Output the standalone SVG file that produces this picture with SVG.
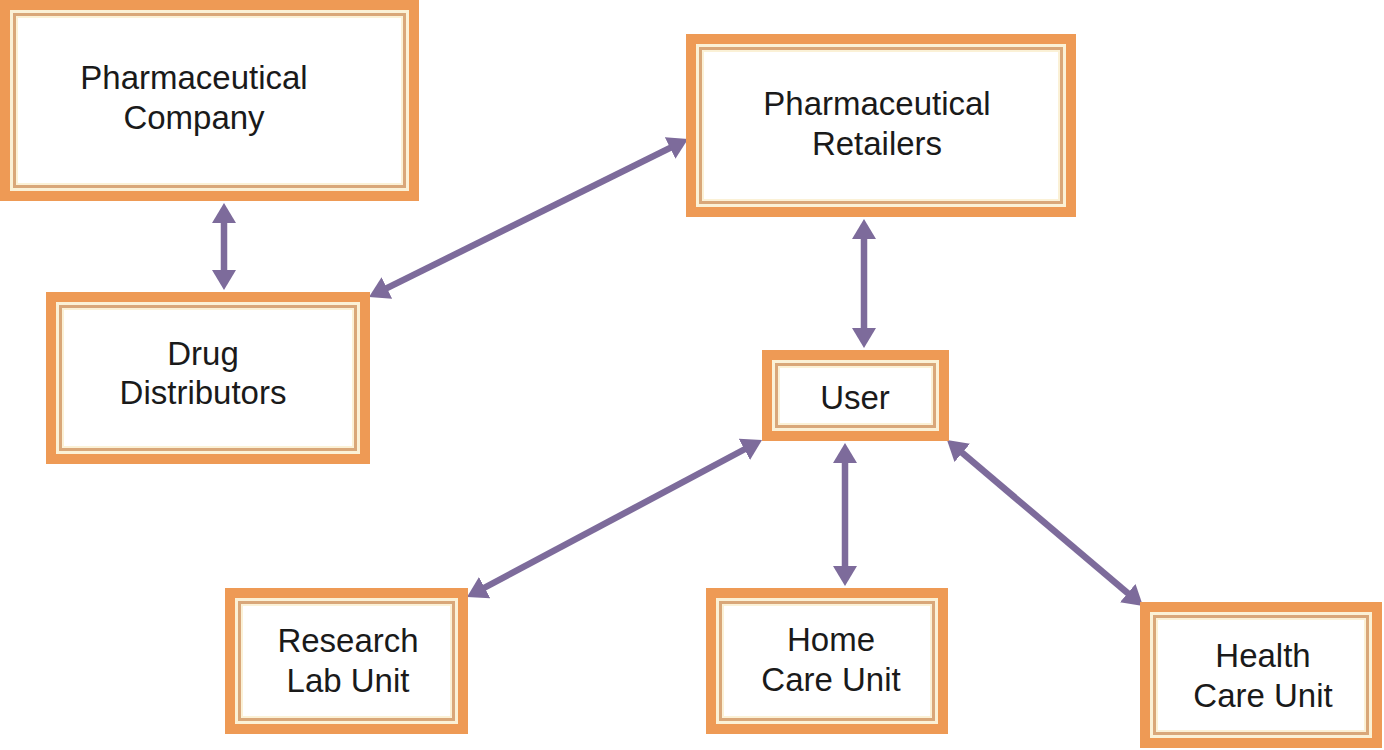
<svg xmlns="http://www.w3.org/2000/svg" width="1384" height="750" viewBox="0 0 1384 750">
<style>
.o{fill:#FBF1D6;stroke:#EE9A55;stroke-width:10}
.t{fill:none;stroke:#D9A779;stroke-width:3}
.w{fill:#FFFFFF}
.lbl{font-family:"Liberation Sans",Arial,sans-serif;font-size:33px;fill:#1a1a1a;text-anchor:middle}
.c{stroke:#7D6B9B;stroke-width:6.5;fill:none;marker-start:url(#ah);marker-end:url(#ah)}
</style>
<defs>
<marker id="ah" markerUnits="userSpaceOnUse" markerWidth="26" markerHeight="26" refX="4" refY="12" orient="auto-start-reverse">
<path d="M0,0 L20,12 L0,24 z" fill="#7D6B9B"/>
</marker>
</defs>
<rect width="1384" height="750" fill="#FFFFFF"/>
<g id="connectors">
<line class="c" x1="224" y1="219" x2="224" y2="274"/>
<line class="c" x1="673.7" y1="146.1" x2="383.3" y2="289.9"/>
<line class="c" x1="864" y1="235" x2="864" y2="332"/>
<line class="c" x1="747.9" y1="447.5" x2="481.1" y2="589.5"/>
<line class="c" x1="845" y1="459" x2="845" y2="570"/>
<line class="c" x1="959.2" y1="450.3" x2="1130.8" y2="595.7"/>
</g>
<g id="pharma-company">
<rect class="o" x="5" y="5" width="409" height="191"/>
<rect class="t" x="14.5" y="14.5" width="390" height="172"/>
<rect class="w" x="18" y="18" width="383" height="165"/>
<text class="lbl" x="194" y="89">Pharmaceutical</text>
<text class="lbl" x="194" y="129">Company</text>
</g>
<g id="pharma-retailers">
<rect class="o" x="691" y="39" width="380" height="173"/>
<rect class="t" x="700.5" y="48.5" width="361" height="154"/>
<rect class="w" x="704" y="52" width="354" height="147"/>
<text class="lbl" x="877" y="115">Pharmaceutical</text>
<text class="lbl" x="877" y="155">Retailers</text>
</g>
<g id="drug-distributors">
<rect class="o" x="51" y="297" width="314" height="162"/>
<rect class="t" x="60.5" y="306.5" width="295" height="143"/>
<rect class="w" x="64" y="310" width="288" height="136"/>
<text class="lbl" x="203" y="365">Drug</text>
<text class="lbl" x="203" y="404">Distributors</text>
</g>
<g id="user">
<rect class="o" x="767" y="355" width="177" height="81"/>
<rect class="t" x="776.5" y="364.5" width="158" height="62"/>
<rect class="w" x="780" y="368" width="151" height="55"/>
<text class="lbl" x="855" y="409">User</text>
</g>
<g id="research-lab">
<rect class="o" x="230" y="593" width="233" height="136"/>
<rect class="t" x="239.5" y="602.5" width="214" height="117"/>
<rect class="w" x="243" y="606" width="207" height="110"/>
<text class="lbl" x="348" y="652">Research</text>
<text class="lbl" x="348" y="692">Lab Unit</text>
</g>
<g id="home-care">
<rect class="o" x="711" y="593" width="232" height="136"/>
<rect class="t" x="720.5" y="602.5" width="213" height="117"/>
<rect class="w" x="724" y="606" width="206" height="110"/>
<text class="lbl" x="831" y="651">Home</text>
<text class="lbl" x="831" y="691">Care Unit</text>
</g>
<g id="health-care">
<rect class="o" x="1145" y="607" width="232" height="136"/>
<rect class="t" x="1154.5" y="616.5" width="213" height="117"/>
<rect class="w" x="1158" y="620" width="206" height="110"/>
<text class="lbl" x="1263" y="667">Health</text>
<text class="lbl" x="1263" y="707">Care Unit</text>
</g>
</svg>
